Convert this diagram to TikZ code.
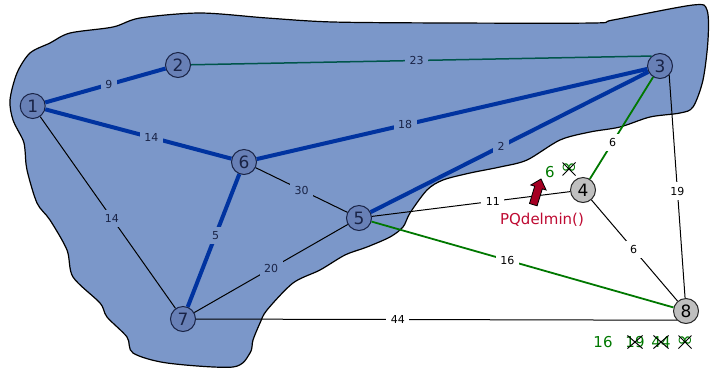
\documentclass[tikz,border=0pt]{standalone}
\usepackage{fontspec}
\setmainfont{DejaVu Sans}
\usetikzlibrary{shapes.misc}

\newlength{\du}
\setlength{\du}{10\unitlength}

\definecolor{blobfill}{RGB}{123,151,201}
\definecolor{innode}{RGB}{104,128,182}
\definecolor{nodeline}{RGB}{25,35,70}
\definecolor{treeblue}{RGB}{0,51,160}
\definecolor{darkteal}{RGB}{0,85,75}
\definecolor{pqgreen}{RGB}{0,120,0}
\definecolor{pqred}{RGB}{190,10,50}
\definecolor{arrowred}{RGB}{165,0,35}

\tikzset{
  vtx/.style={circle, draw=nodeline, line width=0.1\du, fill=innode,
    minimum size=2.5\du, inner sep=0pt, text=nodeline,
    font=\fontsize{17}{17}\selectfont},
  vtxout/.style={vtx, fill=gray!50, draw=black!85, text=black},
  tree/.style={draw=treeblue, line width=0.4\du},
  plain/.style={draw=black, line width=0.1\du},
  greenedge/.style={draw=pqgreen, line width=0.18\du},
  wlabel/.style={fill=blobfill, inner sep=0.45\du, text=nodeline,
    font=\fontsize{11}{11}\selectfont},
  wlabelout/.style={wlabel, fill=white, text=black},
  dist/.style={text=pqgreen, inner sep=0pt, font=\fontsize{15}{15}\selectfont},
  struck/.style={dist, cross out, draw=black, line width=0.1\du,
    inner xsep=-0.25\du, minimum width=1.2\du, minimum height=1.2\du},
  inf/.style={font=\fontsize{20}{20}\selectfont},
}

\begin{document}
\begin{tikzpicture}
\pgftransformxscale{1.000000}
\pgftransformyscale{-1.000000}
\useasboundingbox (0\du,0\du) rectangle (72\du,36.8\du);

% visited region
\draw[fill=blobfill, line width=0.12\du] plot[smooth cycle, tension=0.5] coordinates {
  (1.0\du,10.0\du) (1.7\du,7.3\du) (3.0\du,5.3\du) (5.0\du,4.3\du) (7.0\du,3.3\du)
  (11.3\du,2.7\du) (14.0\du,1.8\du) (20.0\du,1.3\du) (26.7\du,1.8\du) (33.3\du,2.2\du)
  (45.0\du,2.3\du) (59.3\du,2.3\du) (61.3\du,2.0\du) (69.3\du,0.5\du) (70.7\du,1.0\du)
  (70.8\du,4.0\du) (70.3\du,8.0\du) (69.3\du,10.7\du) (68.0\du,11.3\du) (65.0\du,11.7\du)
  (62.0\du,12.7\du) (59.0\du,13.2\du) (56.0\du,14.0\du) (52.7\du,16.0\du) (50.0\du,16.7\du)
  (47.0\du,17.3\du) (44.3\du,18.0\du) (42.7\du,19.0\du) (41.0\du,21.3\du) (40.3\du,22.7\du)
  (39.0\du,23.7\du) (36.7\du,24.7\du) (34.5\du,25.5\du) (32.0\du,27.0\du) (29.3\du,28.3\du)
  (26.7\du,31.0\du) (26.0\du,32.3\du) (25.3\du,34.0\du) (25.0\du,35.3\du) (23.3\du,36.7\du)
  (16.7\du,36.3\du) (13.3\du,35.3\du) (12.7\du,33.7\du) (10.7\du,31.7\du) (10.0\du,30.3\du)
  (7.3\du,27.7\du) (6.7\du,25.0\du) (5.0\du,22.0\du) (3.7\du,20.3\du) (2.7\du,17.0\du)
  (2.5\du,15.0\du) (2.3\du,14.0\du) (1.3\du,12.0\du)};

% vertices
\node[vtx] (n1) at (3.27\du,10.6\du) {1};
\node[vtx] (n2) at (17.8\du,6.5\du) {2};
\node[vtx] (n3) at (66.0\du,6.6\du) {3};
\node[vtxout] (n4) at (58.3\du,19.0\du) {4};
\node[vtx] (n5) at (35.9\du,21.8\du) {5};
\node[vtx] (n6) at (24.4\du,16.2\du) {6};
\node[vtx] (n7) at (18.3\du,31.9\du) {7};
\node[vtxout] (n8) at (68.6\du,31.1\du) {8};

% edges
\draw[tree] (n1) -- node[wlabel, pos=0.53] {9} (n2);
\draw[tree] (n1) -- node[wlabel, pos=0.57] {14} (n6);
\draw[plain] (n1) -- node[wlabel, pos=0.53] {14} (n7);
\draw[draw=darkteal, line width=0.15\du] (n2) -- node[wlabel, pos=0.49] {23} (n3.130);
\draw[tree] (n6) -- node[wlabel, pos=0.38] {18} (n3);
\draw[tree] (n5) -- node[wlabel, pos=0.47] {2} (n3);
\draw[plain] (n6) -- node[wlabel, pos=0.5] {30} (n5);
\draw[tree] (n6) -- node[wlabel, pos=0.46] {5} (n7);
\draw[plain] (n5) -- node[wlabel, pos=0.5] {20} (n7);
\draw[plain] (n7) -- node[wlabelout, pos=0.42] {44} (n8.225);
\draw[plain] (n5) -- node[wlabelout, pos=0.61] {11} (n4);
\draw[greenedge] (n5) -- node[wlabelout, pos=0.45] {16} (n8);
\draw[greenedge] (n3) -- node[wlabelout, pos=0.64] {6} (n4);
\draw[plain] (n4) -- node[wlabelout, pos=0.49] {6} (n8);
\draw[plain] (n3.-45) -- node[wlabelout, pos=0.52] {19} (n8);

% priority queue update
\draw[fill=arrowred, line width=0.08\du] (52.95\du,20.35\du) -- (53.47\du,18.62\du)
  -- (53.08\du,18.50\du) -- (54.1\du,17.9\du) -- (54.61\du,19.00\du)
  -- (54.23\du,18.89\du) -- (53.71\du,20.58\du) -- cycle;
\node[text=pqred, font=\fontsize{15}{15}\selectfont] (delmin) at (54.2\du,22.0\du) {PQdelmin()};

\node[dist] (d4new) at (55.0\du,17.2\du) {6};
\node[struck, inf] (d4old) at (56.9\du,16.9\du) {∞};
\node[dist] (d8new) at (60.3\du,34.2\du) {16};
\node[struck] (d8a) at (63.5\du,34.2\du) {19};
\node[struck] (d8b) at (66.1\du,34.2\du) {44};
\node[struck, inf] (d8c) at (68.5\du,34.2\du) {∞};
\end{tikzpicture}
\end{document}
